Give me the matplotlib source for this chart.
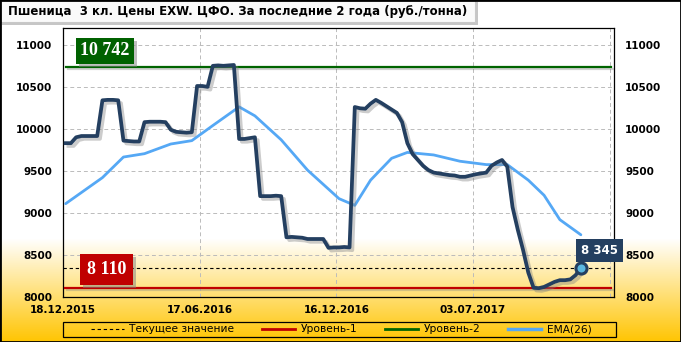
import numpy as np
import matplotlib
matplotlib.use('Agg')
import matplotlib.pyplot as plt
import matplotlib.patheffects as pe
from matplotlib.patches import Rectangle
from matplotlib.lines import Line2D

# данные (недельные значения, руб./тонна)
price = [9830, 9830, 9900, 9915, 9915, 9915, 9915, 10340, 10345, 10345,
         10340, 9860, 9855, 9850, 9850, 10080, 10085, 10085, 10085, 10080,
         9990, 9965, 9960, 9955, 9960, 10510, 10510, 10500, 10750, 10755,
         10750, 10755, 10760, 9880, 9880, 9890, 9900, 9200, 9200, 9200,
         9205, 9200, 8710, 8715, 8710, 8705, 8690, 8690, 8690, 8690,
         8585, 8590, 8590, 8595, 8590, 10260, 10245, 10240, 10300, 10345,
         10310, 10270, 10230, 10190, 10080, 9830, 9700, 9630, 9560, 9510,
         9480, 9470, 9460, 9450, 9445, 9430, 9430, 9445, 9460, 9470,
         9480, 9560, 9600, 9630, 9550, 9070, 8800, 8560, 8290, 8110,
         8105, 8120, 8150, 8180, 8200, 8200, 8210, 8260, 8345]
ema_idx = [0, 7, 11, 15, 20, 24, 28, 33, 36, 41, 46, 52, 55, 58, 62, 65,
           70, 75, 80, 84, 88, 91, 94, 98]
ema = [9110, 9420, 9665, 9705, 9820, 9860, 10040, 10262, 10155, 9870, 9510,
       9170, 9090, 9390, 9650, 9720, 9690, 9615, 9575, 9575, 9390, 9210,
       8920, 8740]
level1 = 8110
level2 = 10742
current = 8345
tick_pos = [0, 26, 52, 78, 104]
tick_labels = ['18.12.2015', '17.06.2016', '16.12.2016', '03.07.2017', '']
title = 'Пшеница  3 кл. Цены EXW. ЦФО. За последние 2 года (руб./тонна)'

navy = '#243F60'
blue = '#55A8F5'
green = '#006400'
red = '#C00000'

fig = plt.figure(figsize=(6.81, 3.42), dpi=100)

# фон - градиент от белого к золотому
bg = fig.add_axes([0, 0, 1, 1], zorder=-10)
h = 342
t = np.clip((np.arange(h) - 238) / (h - 238), 0, 1)[:, None]
top_c = np.array([1.0, 1.0, 1.0])
bot_c = np.array([1.0, 0.77, 0.0])
grad = top_c * (1 - t[..., None]) + bot_c * t[..., None]
bg.imshow(grad.repeat(2, axis=1), aspect='auto', extent=[0, 1, 0, 1])
bg.axis('off')

ax = fig.add_axes([63 / 681, 1 - 297 / 342, 551 / 681, 269 / 342])
ax.set_facecolor('none')

x = np.arange(len(price)) + 0.5
ex = np.array(ema_idx) + 0.5

shadow = [pe.SimpleLineShadow(offset=(1.5, -1.5), shadow_color='gray', alpha=0.35), pe.Normal()]

ax.axhline(level2, xmin=0.006, xmax=0.995, color=green, lw=1.6, path_effects=shadow, zorder=3)
ax.axhline(level1, xmin=0.004, xmax=0.995, color=red, lw=1.6, path_effects=shadow, zorder=3)
ax.axhline(current, xmin=0.0, xmax=0.993, color='black', lw=0.8, ls=(0, (3, 2.5)), zorder=3)
ax.plot(ex, ema, color=blue, lw=2.0, zorder=4, solid_capstyle='round')
ax.plot(x, price, color=navy, lw=2.7, zorder=5, solid_joinstyle='round',
        path_effects=[pe.SimpleLineShadow(offset=(2, -2), shadow_color='gray', alpha=0.4), pe.Normal()])
ax.plot(x[-1], price[-1], 'o', ms=8, mfc='#5BB8E0', mec=navy, mew=2.2, zorder=6)

ax.set_xlim(0, 104.8)
ax.set_ylim(8000, 11200)
ax.set_yticks([8000, 8500, 9000, 9500, 10000, 10500, 11000])
ax.set_xticks(tick_pos)
ax.set_xticklabels(tick_labels)
ax.grid(True, color='#BBBBBB', ls=(0, (4, 3)), lw=0.7)
ax.set_axisbelow(True)
for s in ax.spines.values():
    s.set_color('black')
    s.set_linewidth(0.9)
ax.tick_params(length=0, labelsize=7.5, labelright=True)
ax.tick_params(axis='y', which='both', pad=8)
ax.tick_params(axis='y', labelright=True)
ax.tick_params(axis='x', pad=6)
for lab in ax.get_xticklabels() + ax.get_yticklabels():
    lab.set_fontweight('bold')

# подписи уровней
box_shadow = [pe.withSimplePatchShadow(offset=(2, -2), shadow_rgbFace='gray', alpha=0.5)]
t2 = ax.annotate('10 742', xy=(0, level2), xytext=(12.5, 11.3), textcoords='offset points',
                 xycoords=('axes fraction', 'data'), color='white', fontsize=13,
                 fontweight='bold', family='Liberation Serif', va='center', ha='left',
                 bbox=dict(boxstyle='square,pad=0.25', fc='#006100', ec='none'), zorder=7)
t2.get_bbox_patch().set_path_effects(box_shadow)
t1 = ax.annotate('8 110', xy=(0, level1), xytext=(17, 13), textcoords='offset points',
                 xycoords=('axes fraction', 'data'), color='white', fontsize=13,
                 fontweight='bold', family='Liberation Serif', va='center', ha='left',
                 bbox=dict(boxstyle='square,pad=0.38', fc=red, ec='none'), zorder=7)
t1.get_bbox_patch().set_path_effects(box_shadow)
t3 = ax.annotate('8 345', xy=(x[-1], price[-1]), xytext=(0, 12.5), textcoords='offset points',
                 color='white', fontsize=8.5, fontweight='bold', va='center', ha='left',
                 bbox=dict(boxstyle='square,pad=0.45', fc=navy, ec='none'), zorder=8,
                 annotation_clip=False)

# заголовок
fig.patches.append(Rectangle((2 / 681, 1 - 25 / 342), 476 / 681, 23 / 342, transform=fig.transFigure,
                             fc='#A0A0A0', ec='none', alpha=0.6, zorder=1))
fig.patches.append(Rectangle((0, 1 - 22 / 342), 475 / 681, 22 / 342, transform=fig.transFigure,
                             fc='#FAFAFA', ec='#C8C8C8', lw=0.8, zorder=2))
fig.text(8 / 681, 1 - 11 / 342, title, fontsize=8.5, fontweight='bold', va='center', ha='left', zorder=3)

# легенда
fig.patches.append(Rectangle((63 / 681, 5 / 342), 553 / 681, 15 / 342, transform=fig.transFigure,
                             fill=False, ec='black', lw=0.9, zorder=5))
handles = [Line2D([], [], color='black', lw=0.8, ls=(0, (3, 2.5))),
           Line2D([], [], color=red, lw=2),
           Line2D([], [], color=green, lw=2),
           Line2D([], [], color=blue, lw=2.5)]
labels = ['Текущее значение', 'Уровень-1', 'Уровень-2', 'EMA(26)']
leg = fig.legend(handles, labels, ncol=4, loc='center',
                 bbox_to_anchor=(341 / 681, 12.5 / 342),
                 fontsize=7.7, frameon=False, handlelength=3.1,
                 handletextpad=0.5, borderpad=0, borderaxespad=0, columnspacing=2.6)

fig.patches.append(Rectangle((0, 0), 1, 1, transform=fig.transFigure, fill=False,
                             ec='black', lw=2, zorder=20))

fig.savefig('out.png', dpi=100)
